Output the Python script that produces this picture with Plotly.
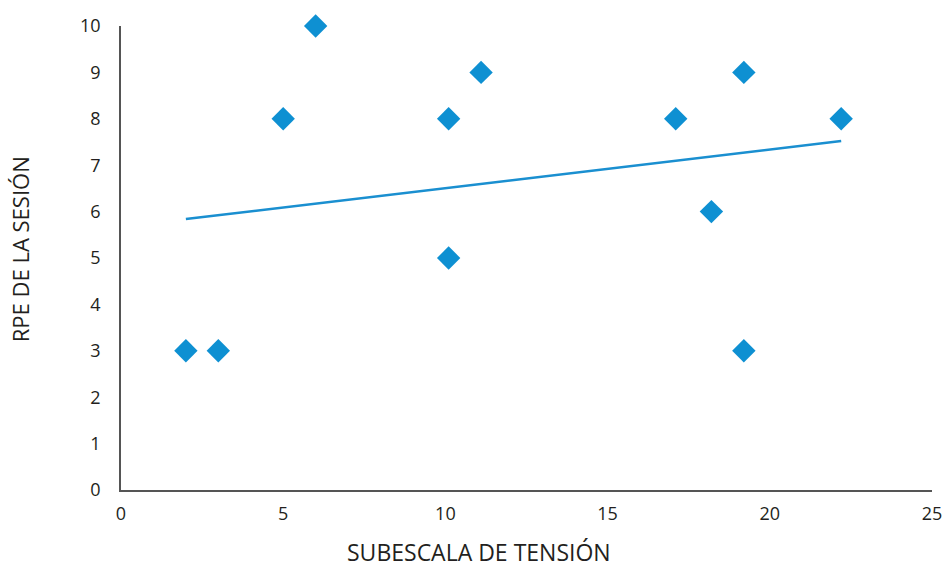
import numpy as np
import plotly.graph_objects as go

# Data
tension = [2, 3, 5, 6, 10.1, 10.1, 11.1, 17.1, 18.2, 19.2, 19.2, 22.2]
rpe = [3, 3, 8, 10, 8, 5, 9, 8, 6, 9, 3, 8]
x_ticks = [0, 5, 10, 15, 20, 25]
y_ticks = list(range(0, 11))
x_title = "SUBESCALA DE TENSIÓN"
y_title = "RPE DE LA SESIÓN"

# Linear trend (least squares) computed from the data
slope, intercept = np.polyfit(tension, rpe, 1)
trend_x = [min(tension), max(tension)]
trend_y = [slope * v + intercept for v in trend_x]

BLUE = "#0e90d2"
FONT = "Open Sans"
TEXT = "#231f20"

fig = go.Figure()
fig.add_trace(go.Scatter(
    x=trend_x, y=trend_y, mode="lines",
    line=dict(color="#1a8fd0", width=2.5),
    hoverinfo="skip", showlegend=False,
))
fig.add_trace(go.Scatter(
    x=tension, y=rpe, mode="markers",
    marker=dict(symbol="diamond", size=18, color=BLUE, line=dict(width=0)),
    cliponaxis=False, showlegend=False,
))

fig.update_layout(
    width=943, height=568,
    margin=dict(l=121, r=11, t=26, b=78, autoexpand=False),
    paper_bgcolor="white", plot_bgcolor="white",
    font=dict(family=FONT, color=TEXT, size=18),
    annotations=[
        dict(text=x_title, xref="paper", yref="paper", x=0.4414, y=-0.1336,
             xanchor="center", yanchor="middle", showarrow=False,
             font=dict(size=23, color=TEXT, family=FONT)),
        dict(text=y_title, xref="paper", yref="paper", x=-0.1245, y=0.519,
             xanchor="center", yanchor="middle", showarrow=False, textangle=-90,
             font=dict(size=22, color=TEXT, family=FONT)),
    ],
)
fig.update_xaxes(
    range=[0, 25], tickvals=x_ticks, showgrid=False, zeroline=False,
    showline=True, linecolor="#555555", linewidth=1.5,
    ticks="", ticklabelstandoff=7, tickfont=dict(size=18),
    automargin=False,
)
fig.update_yaxes(
    range=[0, 10], tickvals=y_ticks, showgrid=False, zeroline=False,
    showline=True, linecolor="#555555", linewidth=1.5,
    ticks="", ticklabelstandoff=15, tickfont=dict(size=18),
    automargin=False,
)

fig.write_html(
    "out.html",
    config={"displayModeBar": False},
    post_script="document.body.style.margin='0';document.body.style.overflow='hidden';",
)
